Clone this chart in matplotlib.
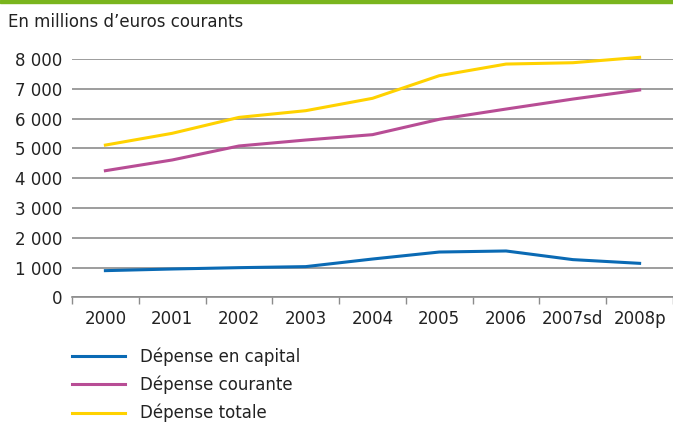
import numpy as np
import matplotlib
matplotlib.use("Agg")
import matplotlib.pyplot as plt
from matplotlib.patches import Rectangle

plt.rcParams['font.family'] = ['Liberation Sans Narrow', 'DejaVu Sans']

years = ["2000", "2001", "2002", "2003", "2004", "2005", "2006", "2007sd", "2008p"]
capital = [895, 950, 995, 1030, 1285, 1520, 1555, 1265, 1140]
courante = [4250, 4610, 5080, 5280, 5460, 5975, 6320, 6655, 6960]
totale = [5110, 5505, 6040, 6265, 6680, 7440, 7830, 7875, 8056]
yticks = [0, 1000, 2000, 3000, 4000, 5000, 6000, 7000, 8000]

fig = plt.figure(figsize=(6.73, 4.23), dpi=100)
fig.patches.append(Rectangle((0, 1 - 3 / 423), 1, 3 / 423, transform=fig.transFigure,
                             color="#7ab51d", zorder=0))
fig.text(8 / 673, 1 - 22 / 423, "En millions d\u2019euros courants", fontsize=12,
         va="center", ha="left", color="#222222")

ax = fig.add_axes([72 / 673, 1 - 297.3 / 423, 1 - 72 / 673, (297.3 - 59) / 423])
x = np.arange(len(years))
ax.plot(x, capital, color="#0a6ab4", lw=2.2, label="Dépense en capital", clip_on=False)
ax.plot(x, courante, color="#b84d95", lw=2.2, label="Dépense courante", clip_on=False)
ax.plot(x, totale, color="#ffd200", lw=2.2, label="Dépense totale", clip_on=False)

ax.set_xlim(-0.5, len(years) - 0.5)
ax.set_ylim(0, 8000)
ax.set_yticks(yticks)
ax.set_yticklabels([f"{v:,}".replace(",", " ") for v in yticks])
ax.set_xticks(x)
ax.set_xticklabels(years)
ax.set_xticks(np.arange(len(years) + 1) - 0.5, minor=True)
ax.tick_params(axis="x", which="major", length=0, labelsize=12, pad=9, colors="#222222")
ax.tick_params(axis="x", which="minor", length=5, color="#8c8c8c", width=1)
ax.tick_params(axis="y", length=0, labelsize=12, pad=7, colors="#222222")
ax.yaxis.grid(True, color="#8c8c8c", lw=1.2)
ax.set_axisbelow(True)
for s in ["left", "right", "top"]:
    ax.spines[s].set_visible(False)
ax.spines["bottom"].set_color("#8c8c8c")
ax.spines["bottom"].set_linewidth(1.2)

ax.legend(loc="upper left", bbox_to_anchor=(72 / 673, 1 - 347 / 423),
          bbox_transform=fig.transFigure, frameon=False, fontsize=12,
          handlelength=3.2, handletextpad=0.9, labelspacing=0.6,
          borderpad=0, borderaxespad=0, labelcolor="#222222")

fig.savefig("out.png", dpi=100)
